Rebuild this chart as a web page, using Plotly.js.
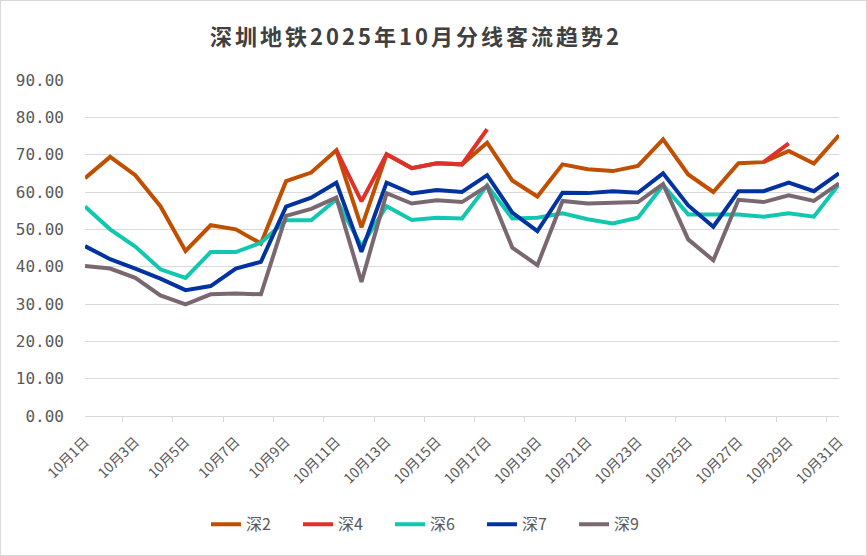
<!DOCTYPE html>
<html>
<head>
<meta charset="utf-8">
<script src="https://cdn.plot.ly/plotly-3.0.1.min.js"></script>
<style>
  html, body { margin: 0; padding: 0; background: #fff; }
  #wrap { position: relative; width: 867px; height: 556px; }
  #chart { width: 867px; height: 556px; }
  #frame { position: absolute; left: 0; top: 0; width: 865px; height: 554px; border: 1px solid #d9d9d9; pointer-events: none; }
  #chart .gtitle { letter-spacing: 3px; }
</style>
</head>
<body>
<div id="wrap"><div id="chart"></div><div id="frame"></div></div>
<script>
const days = ["10月1日","10月2日","10月3日","10月4日","10月5日","10月6日","10月7日","10月8日","10月9日","10月10日",
  "10月11日","10月12日","10月13日","10月14日","10月15日","10月16日","10月17日","10月18日","10月19日","10月20日",
  "10月21日","10月22日","10月23日","10月24日","10月25日","10月26日","10月27日","10月28日","10月29日","10月30日","10月31日"];

const shen2 = [63.7,69.4,64.5,56.2,44.2,51.1,50.0,46.2,62.9,65.2,
  71.2,50.5,70.1,66.4,67.7,67.4,73.2,63.1,58.8,67.4,
  66.1,65.6,67.0,74.1,64.7,60.0,67.7,68.0,71.0,67.6,75.2];
const shen4 = [null,null,null,null,null,null,null,null,null,null,
  71.2,57.5,70.1,66.4,67.7,67.4,76.8,null,null,null,
  null,null,null,null,null,null,null,68.0,73.0,null,null];
const shen6 = [56.1,50.0,45.4,39.3,37.0,43.9,43.9,46.4,52.4,52.4,
  58.0,45.5,56.2,52.5,53.1,52.9,61.8,52.9,53.1,54.3,
  52.7,51.6,53.1,61.8,54.0,54.0,54.0,53.4,54.3,53.4,62.1];
const shen7 = [45.5,42.0,39.5,36.8,33.7,34.8,39.5,41.3,56.1,58.5,
  62.5,44.0,62.5,59.6,60.5,60.0,64.5,54.5,49.5,59.8,
  59.7,60.2,59.8,65.0,56.4,50.7,60.2,60.2,62.5,60.2,65.0];
const shen9 = [40.2,39.5,37.0,32.3,29.9,32.6,32.8,32.6,53.6,55.5,
  58.5,35.9,59.7,56.9,57.8,57.3,61.6,45.1,40.4,57.6,
  56.9,57.2,57.3,62.1,47.3,41.7,57.9,57.3,59.1,57.6,62.3];

const names = ["深2","深4","深6","深7","深9"];
const colors = ["#C04F00","#E0302A","#12C7B0","#0033A0","#7A6870"];
const series = [shen2, shen4, shen6, shen7, shen9];

const traces = series.map((s, i) => ({
  type: "scatter",
  mode: "lines",
  x: days,
  y: s,
  name: names[i],
  connectgaps: false,
  line: { color: colors[i], width: 4, shape: "linear" },
  hoverinfo: "x+y+name"
}));

const font = "'Noto Sans CJK SC', 'Noto Sans', sans-serif";

const layout = {
  width: 867,
  height: 556,
  paper_bgcolor: "#ffffff",
  plot_bgcolor: "#ffffff",
  margin: { l: 85, r: 28, t: 80, b: 140, autoexpand: false },
  title: {
    text: "深圳地铁2025年10月分线客流趋势2",
    font: { family: font, size: 22, color: "#404040", weight: 700 },
    x: 416 / 867, xanchor: "center", xref: "container",
    y: 1 - 37 / 556, yanchor: "middle", yref: "container"
  },
  xaxis: {
    type: "category",
    dtick: 2,
    tickson: "boundaries",
    ticks: "outside",
    ticklen: 5,
    tickcolor: "#d9d9d9",
    tickangle: -45,
    ticklabelstandoff: 11,
    showgrid: false,
    showline: true,
    linecolor: "#d9d9d9",
    linewidth: 1,
    tickfont: { family: font, size: 14, color: "#595959" },
    fixedrange: true
  },
  yaxis: {
    range: [0, 90],
    dtick: 10,
    tick0: 0,
    tickformat: ".2f",
    showgrid: true,
    gridcolor: "#d9d9d9",
    gridwidth: 1,
    zeroline: false,
    showline: false,
    ticks: "",
    ticklabelstandoff: 20,
    tickfont: { family: "'DejaVu Sans Mono', monospace", size: 16, color: "#595959" },
    fixedrange: true
  },
  legend: {
    orientation: "h",
    x: (436 - 85) / 754, xanchor: "center",
    y: (416.5 - 525) / 336.5, yanchor: "middle",
    font: { family: font, size: 16, color: "#595959" },
    entrywidth: 47,
    entrywidthmode: "pixels",
    traceorder: "normal"
  },
  showlegend: true
};

Plotly.newPlot("chart", traces, layout, { displayModeBar: false, staticPlot: true });
</script>
</body>
</html>
